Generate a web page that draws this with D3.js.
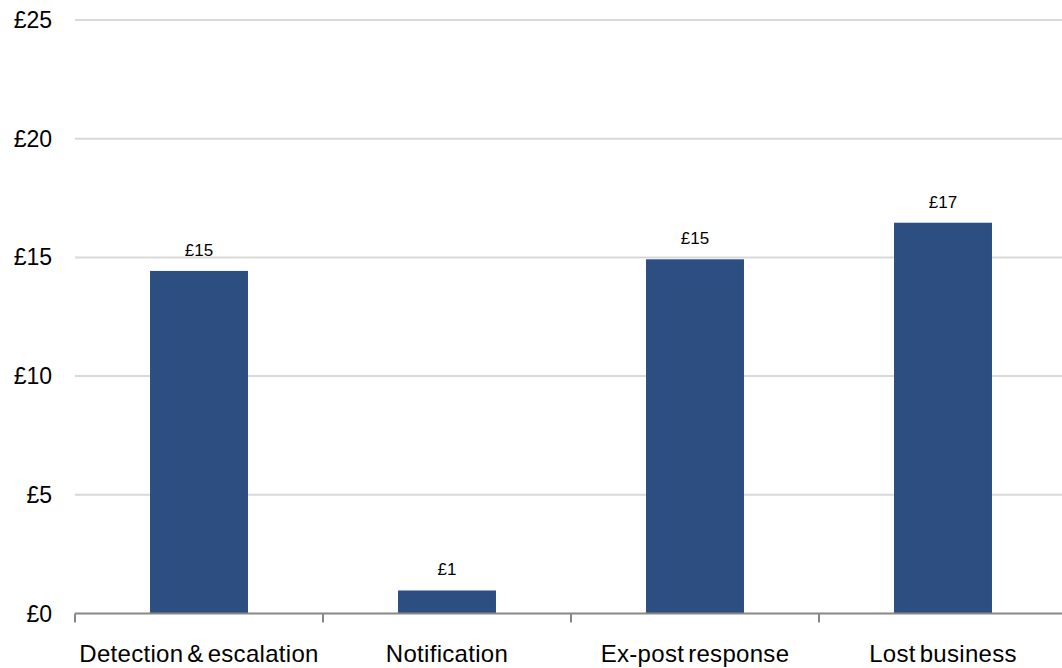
<!DOCTYPE html>
<html>
<head>
<meta charset="utf-8">
<script src="https://cdn.jsdelivr.net/npm/d3@7"></script>
<style>
  html, body { margin: 0; padding: 0; background: #fff; }
  svg { display: block; font-family: "Liberation Sans", Arial, sans-serif; }
</style>
</head>
<body>
<svg id="chart" width="1062" height="668"></svg>
<script>
const categories = ["Detection & escalation", "Notification", "Ex-post response", "Lost business"];
const values = [14.43, 0.97, 14.92, 16.46];
const valueLabels = ["£15", "£1", "£15", "£17"];
const yTicks = [0, 5, 10, 15, 20, 25];
const yTickLabels = ["£0", "£5", "£10", "£15", "£20", "£25"];

const svg = d3.select("#chart");
const W = 1062;
const x0 = 75, x1 = 1067, yTop = 20, yBase = 613.5;

const x = d3.scaleBand().domain(categories).range([x0, x1])
  .paddingInner(0.605).paddingOuter(0.3025);
const xb = d3.scaleBand().domain(categories).range([x0, x1]).padding(0);
const y = d3.scaleLinear().domain([0, 25]).range([yBase, yTop]);

// gridlines
svg.append("g").selectAll("line")
  .data(yTicks.filter(d => d > 0))
  .join("line")
  .attr("x1", x0).attr("x2", W)
  .attr("y1", d => y(d)).attr("y2", d => y(d))
  .attr("stroke", "#d9d9d9").attr("stroke-width", 2);

// y labels
svg.append("g").selectAll("text")
  .data(yTicks)
  .join("text")
  .attr("x", 52).attr("y", d => y(d))
  .attr("text-anchor", "end").attr("dominant-baseline", "central")
  .attr("font-size", 23).attr("fill", "#000")
  .text((d, i) => yTickLabels[i]);

// bars
svg.append("g").selectAll("rect")
  .data(categories)
  .join("rect")
  .attr("x", d => x(d))
  .attr("width", x.bandwidth())
  .attr("y", (d, i) => y(values[i]))
  .attr("height", (d, i) => y(0) - y(values[i]))
  .attr("fill", "#2c4e80");

// value labels
svg.append("g").selectAll("text")
  .data(categories)
  .join("text")
  .attr("x", d => x(d) + x.bandwidth() / 2)
  .attr("y", (d, i) => y(values[i]) - 15)
  .attr("text-anchor", "middle")
  .attr("font-size", 17).attr("fill", "#000")
  .text((d, i) => valueLabels[i]);

// x axis line
svg.append("line")
  .attr("x1", x0).attr("x2", W)
  .attr("y1", y(0)).attr("y2", y(0))
  .attr("stroke", "#888").attr("stroke-width", 2);

// tick marks at band boundaries
svg.append("g").selectAll("line")
  .data(categories)
  .join("line")
  .attr("x1", d => xb(d)).attr("x2", d => xb(d))
  .attr("y1", y(0)).attr("y2", y(0) + 9)
  .attr("stroke", "#888").attr("stroke-width", 2);

// category labels
svg.append("g").selectAll("text")
  .data(categories)
  .join("text")
  .attr("x", d => xb(d) + xb.bandwidth() / 2)
  .attr("y", 662)
  .attr("text-anchor", "middle")
  .attr("font-size", 24)
  .attr("letter-spacing", 0.3)
  .attr("word-spacing", -3)
  .attr("fill", "#000")
  .text(d => d);
</script>
</body>
</html>
